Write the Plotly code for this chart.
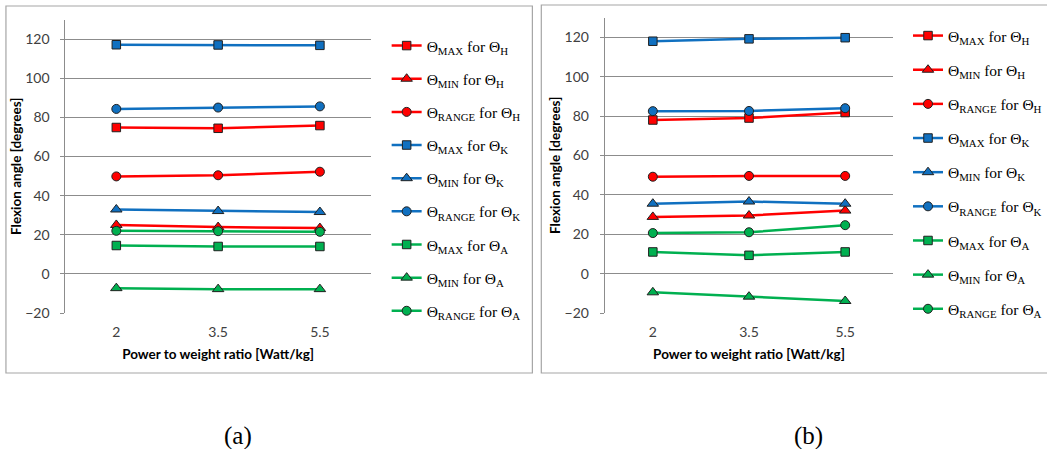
import plotly.graph_objects as go

W, H = 1047, 449

ratios = ["2", "3.5", "5.5"]

# (a)
a_max_H = [74.8, 74.4, 75.8]
a_min_H = [25.0, 23.9, 23.4]
a_rng_H = [49.8, 50.4, 52.2]
a_max_K = [117.1, 117.0, 116.8]
a_min_K = [32.9, 32.1, 31.6]
a_rng_K = [84.3, 85.0, 85.6]
a_max_A = [14.5, 14.0, 14.0]
a_min_A = [-7.3, -7.8, -7.8]
a_rng_A = [22.0, 21.8, 21.5]

# (b)
b_max_H = [78.0, 79.0, 81.8]
b_min_H = [28.8, 29.5, 32.0]
b_rng_H = [49.2, 49.6, 49.6]
b_max_K = [118.0, 119.2, 119.8]
b_min_K = [35.5, 36.6, 35.5]
b_rng_K = [82.5, 82.6, 84.0]
b_max_A = [11.0, 9.3, 11.0]
b_min_A = [-9.5, -11.7, -13.9]
b_rng_A = [20.6, 21.0, 24.6]

names = [
    "Θ<sub>MAX</sub> for Θ<sub>H</sub>",
    "Θ<sub>MIN</sub> for Θ<sub>H</sub>",
    "Θ<sub>RANGE</sub> for Θ<sub>H</sub>",
    "Θ<sub>MAX</sub> for Θ<sub>K</sub>",
    "Θ<sub>MIN</sub> for Θ<sub>K</sub>",
    "Θ<sub>RANGE</sub> for Θ<sub>K</sub>",
    "Θ<sub>MAX</sub> for Θ<sub>A</sub>",
    "Θ<sub>MIN</sub> for Θ<sub>A</sub>",
    "Θ<sub>RANGE</sub> for Θ<sub>A</sub>",
]
RED, BLUE, GREEN = "#FF0000", "#1070C0", "#00B050"
colors = [RED] * 3 + [BLUE] * 3 + [GREEN] * 3
symbols = ["square", "triangle-up", "circle"] * 3
sizes = {"square": 8.5, "triangle-up": 10, "circle": 9}

series_a = [a_max_H, a_min_H, a_rng_H, a_max_K, a_min_K, a_rng_K, a_max_A, a_min_A, a_rng_A]
series_b = [b_max_H, b_min_H, b_rng_H, b_max_K, b_min_K, b_rng_K, b_max_A, b_min_A, b_rng_A]

fig = go.Figure()

for panel, series, xa, ya, leg in [("a", series_a, "x", "y", "legend"), ("b", series_b, "x2", "y2", "legend2")]:
    for i, vals in enumerate(series):
        fig.add_trace(go.Scatter(
            x=ratios, y=vals, name=names[i], mode="lines+markers",
            xaxis=xa, yaxis=ya, legend=leg, legendgroup=panel + str(i),
            line=dict(color=colors[i], width=2.5),
            marker=dict(symbol=symbols[i], size=sizes[symbols[i]],
                        color=colors[i], line=dict(color="#202020", width=1)),
        ))

def px_x(p):
    return p / W

def px_y(p):
    return 1 - p / H

GRID = "#8C8C8C"
tickfont = dict(family="Lato, Liberation Sans, sans-serif", size=14, color="#404040")
titlefont = dict(family="Lato, Liberation Sans, sans-serif", size=13.5, color="#000000")

def xaxis(domain):
    return dict(domain=domain, type="category", range=[-0.5, 2.5], showgrid=False,
                showline=False, zeroline=False, ticks="", tickfont=tickfont,
                ticklabelstandoff=9,
                title=dict(text="<b>Power to weight ratio [Watt/kg]</b>", font=titlefont, standoff=10),
                automargin=False, fixedrange=True)

def yaxis(domain):
    return dict(domain=domain, range=[-20, 130], tickvals=[-20, 0, 20, 40, 60, 80, 100, 120],
                showgrid=True, gridcolor=GRID, gridwidth=1, zeroline=False,
                showline=True, linecolor=GRID, linewidth=1, ticks="outside", ticklen=4,
                tickcolor=GRID, tickfont=tickfont, ticklabelstandoff=8,
                title=dict(text="<b>Flexion angle [degrees]</b>", font=titlefont, standoff=0),
                automargin=False, fixedrange=True)

xa1 = xaxis([px_x(66), px_x(374)]); xa1["anchor"] = "y"
xa2 = xaxis([px_x(610), px_x(901)]); xa2["anchor"] = "y2"
ya1 = yaxis([px_y(313), px_y(19.5)]); ya1["anchor"] = "x"
ya2 = yaxis([px_y(313), px_y(17.6)]); ya2["anchor"] = "x2"

legfont = dict(family="Liberation Serif, Times New Roman, serif", size=15.5, color="#000000")

fig.update_layout(
    width=W, height=H,
    margin=dict(l=0, r=0, t=0, b=0),
    paper_bgcolor="white", plot_bgcolor="white",
    xaxis=xa1, yaxis=ya1, xaxis2=xa2, yaxis2=ya2,
    legend=dict(x=px_x(390), y=px_y(29), xanchor="left", yanchor="top",
                font=legfont, tracegroupgap=10, bgcolor="rgba(0,0,0,0)", itemclick=False),
    legend2=dict(x=px_x(916), y=px_y(19), xanchor="left", yanchor="top",
                 font=legfont, tracegroupgap=11, bgcolor="rgba(0,0,0,0)", itemclick=False),
    shapes=[
        dict(type="rect", xref="paper", yref="paper", x0=px_x(6), x1=px_x(537),
             y0=px_y(373), y1=px_y(6), line=dict(color="#A6A6A6", width=1.2)),
        dict(type="rect", xref="paper", yref="paper", x0=px_x(546), x1=px_x(1060),
             y0=px_y(373), y1=px_y(5), line=dict(color="#A6A6A6", width=1.2)),
    ],
    annotations=[
        dict(text="(a)", x=px_x(240), y=px_y(436), xref="paper", yref="paper",
             xanchor="center", yanchor="middle", showarrow=False,
             font=dict(family="Liberation Serif, serif", size=25, color="#000")),
        dict(text="(b)", x=px_x(816), y=px_y(436), xref="paper", yref="paper",
             xanchor="center", yanchor="middle", showarrow=False,
             font=dict(family="Liberation Serif, serif", size=25, color="#000")),
    ],
    showlegend=True,
)

fig.write_html("out.html", config={"displayModeBar": False},
               post_script="document.body.style.margin='0';document.body.style.overflow='hidden';")
